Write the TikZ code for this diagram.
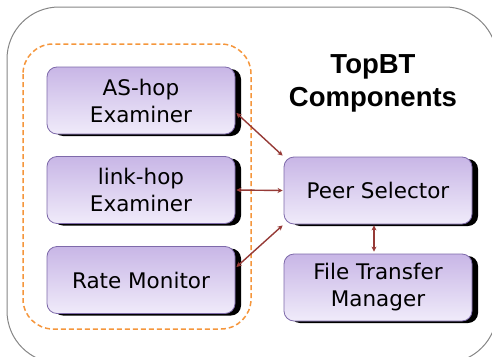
\documentclass[tikz,border=0pt]{standalone}
\usepackage{fontspec}
\newfontfamily\boxfont{DejaVu Sans}
\newfontfamily\titlefont{Liberation Sans}
\usetikzlibrary{shadows,arrows.meta}
\definecolor{boxtop}{HTML}{C8B6E6}
\definecolor{boxbot}{HTML}{F0EBFA}
\definecolor{boxline}{HTML}{7E6AAA}
\definecolor{arrowred}{HTML}{963A36}
\definecolor{dashorange}{HTML}{F5963C}
\definecolor{outergray}{HTML}{858585}
\tikzset{
  comp/.style={rectangle, rounded corners=10pt, minimum width=188pt, minimum height=67pt,
    draw=boxline, line width=0.8pt, top color=boxtop, bottom color=boxbot,
    drop shadow={shadow xshift=6pt, shadow yshift=-2pt, fill=black, opacity=1},
    align=center, inner sep=0pt, font=\boxfont\fontsize{21.5}{27}\selectfont},
  link/.style={draw=arrowred, line width=1.4pt,
    {Stealth[length=5pt,width=5pt,inset=1.5pt]}-{Stealth[length=5pt,width=5pt,inset=1.5pt]}}
}
\begin{document}
\begin{tikzpicture}[x=1pt,y=-1pt]
\useasboundingbox (0,0) rectangle (492,356);
\draw[outergray, line width=1pt, rounded corners=52pt] (7,7) rectangle (497,363);
\draw[dashorange, line width=1.5pt, dash pattern=on 5pt off 3pt, rounded corners=30pt] (23,44) rectangle (251,329);
\node[font=\titlefont\bfseries\fontsize{27.5}{33}\selectfont, align=center] (title) at (373,83.5) {TopBT\\Components};
\node[comp] (as) at (141,100.5) {AS-hop\\Examiner};
\node[comp] (lh) at (141,190) {link-hop\\Examiner};
\node[comp] (rm) at (141,280) {Rate Monitor};
\node[comp] (ps) at (378,190.5) {Peer Selector};
\node[comp] (ftm) at (378,287.5) {File Transfer\\Manager};
\draw[link] ([yshift=-12.5pt,xshift=1pt]as.east) -- ([xshift=-1pt,yshift=1pt]ps.north west);
\draw[link] ([xshift=1pt]lh.east) -- ([xshift=-1pt]ps.west);
\draw[link] ([yshift=13pt,xshift=1pt]rm.east) -- ([xshift=-1pt,yshift=-1pt]ps.south west);
\draw[link] ([xshift=-4pt,yshift=-1pt]ps.south) -- ([xshift=-4pt,yshift=2pt]ftm.north);
\end{tikzpicture}
\end{document}
